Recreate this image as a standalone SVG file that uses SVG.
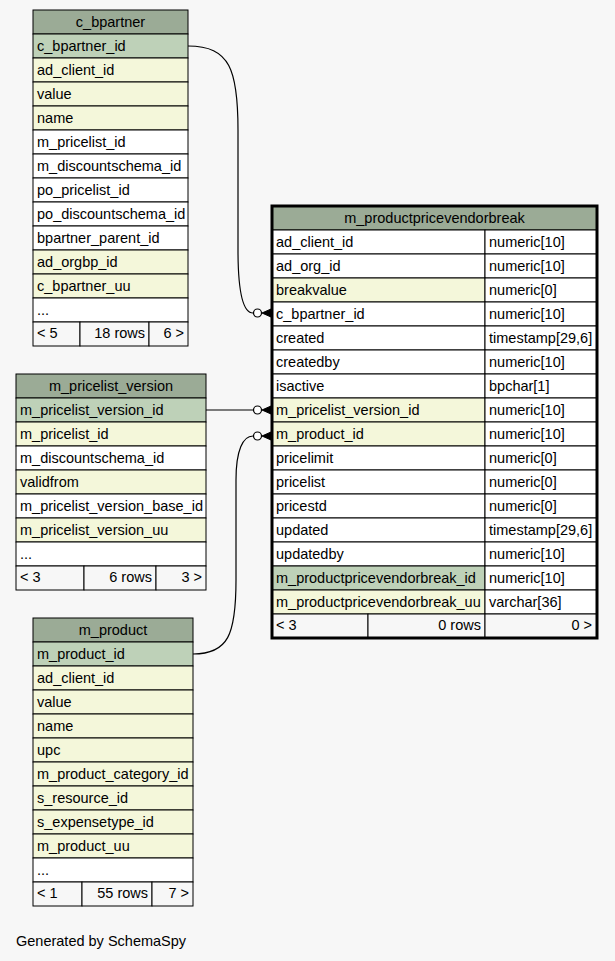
<svg xmlns="http://www.w3.org/2000/svg" width="615" height="961" viewBox="0 0 615 961">
<style>
text{font-family:"Liberation Sans",Arial,sans-serif;font-size:14.5px;fill:#000}
.h{fill:#9bab96;stroke:#000;stroke-width:1}
.pk{fill:#bed1b8;stroke:#000;stroke-width:1}
.ix{fill:#f4f7da;stroke:#000;stroke-width:1}
.w{fill:#ffffff;stroke:#000;stroke-width:1}
.f{fill:#f7f7f7;stroke:#000;stroke-width:1}
.o{fill:none;stroke:#000;stroke-width:1}
.ob{fill:none;stroke:#000;stroke-width:3}
.c{text-anchor:middle}
.r{text-anchor:end}
.e{fill:none;stroke:#000;stroke-width:1.2}
.dot{fill:#fff;stroke:#000;stroke-width:1.2}
.crow{fill:#000;stroke:#000;stroke-width:1}
</style>
<rect width="615" height="961" fill="#f7f7f7"/>

<g id="connectors">
  <path class="e" d="M188,46 C230,46 238,70 238,130 L238,250 C238,295 244,313 253,313"/>
  <circle class="dot" cx="257.5" cy="313" r="4"/>
  <path class="crow" d="M262,313 L271,309 L271,317 Z"/>
  <path class="e" d="M206,410 L253,410"/>
  <circle class="dot" cx="257.5" cy="410" r="4"/>
  <path class="crow" d="M262,410 L271,406 L271,414 Z"/>
  <path class="e" d="M193,654 C228,654 236,635 236,580 L236,480 C236,450 243,436 253,436"/>
  <circle class="dot" cx="257.5" cy="436" r="4"/>
  <path class="crow" d="M262,436 L271,432 L271,440 Z"/>
</g>

<g id="c_bpartner">
  <rect class="h" x="33" y="10" width="155" height="24"/>
  <text class="c" x="110.5" y="27">c_bpartner</text>
  <rect class="pk" x="33" y="34" width="155" height="24"/><text x="37" y="51">c_bpartner_id</text>
  <rect class="ix" x="33" y="58" width="155" height="24"/><text x="37" y="75">ad_client_id</text>
  <rect class="ix" x="33" y="82" width="155" height="24"/><text x="37" y="99">value</text>
  <rect class="ix" x="33" y="106" width="155" height="24"/><text x="37" y="123">name</text>
  <rect class="w" x="33" y="130" width="155" height="24"/><text x="37" y="147">m_pricelist_id</text>
  <rect class="w" x="33" y="154" width="155" height="24"/><text x="37" y="171">m_discountschema_id</text>
  <rect class="w" x="33" y="178" width="155" height="24"/><text x="37" y="195">po_pricelist_id</text>
  <rect class="w" x="33" y="202" width="155" height="24"/><text x="37" y="219">po_discountschema_id</text>
  <rect class="w" x="33" y="226" width="155" height="24"/><text x="37" y="243">bpartner_parent_id</text>
  <rect class="ix" x="33" y="250" width="155" height="24"/><text x="37" y="267">ad_orgbp_id</text>
  <rect class="ix" x="33" y="274" width="155" height="24"/><text x="37" y="291">c_bpartner_uu</text>
  <rect class="w" x="33" y="298" width="155" height="24"/><text x="37" y="315">...</text>
  <rect class="f" x="33" y="322" width="47" height="24"/><text x="37" y="338">&lt; 5</text>
  <rect class="f" x="80" y="322" width="69" height="24"/><text class="r" x="145" y="338">18 rows</text>
  <rect class="f" x="149" y="322" width="39" height="24"/><text class="r" x="184" y="338">6 &gt;</text>
</g>

<g id="m_pricelist_version">
  <rect class="h" x="16" y="374" width="190" height="24"/>
  <text class="c" x="111" y="391">m_pricelist_version</text>
  <rect class="pk" x="16" y="398" width="190" height="24"/><text x="20" y="415">m_pricelist_version_id</text>
  <rect class="ix" x="16" y="422" width="190" height="24"/><text x="20" y="439">m_pricelist_id</text>
  <rect class="w" x="16" y="446" width="190" height="24"/><text x="20" y="463">m_discountschema_id</text>
  <rect class="ix" x="16" y="470" width="190" height="24"/><text x="20" y="487">validfrom</text>
  <rect class="w" x="16" y="494" width="190" height="24"/><text x="20" y="511">m_pricelist_version_base_id</text>
  <rect class="ix" x="16" y="518" width="190" height="24"/><text x="20" y="535">m_pricelist_version_uu</text>
  <rect class="w" x="16" y="542" width="190" height="24"/><text x="20" y="559">...</text>
  <rect class="f" x="16" y="566" width="68" height="24"/><text x="20" y="582">&lt; 3</text>
  <rect class="f" x="84" y="566" width="72" height="24"/><text class="r" x="152" y="582">6 rows</text>
  <rect class="f" x="156" y="566" width="50" height="24"/><text class="r" x="202" y="582">3 &gt;</text>
</g>

<g id="m_product">
  <rect class="h" x="33" y="618" width="160" height="24"/>
  <text class="c" x="113" y="635">m_product</text>
  <rect class="pk" x="33" y="642" width="160" height="24"/><text x="37" y="659">m_product_id</text>
  <rect class="ix" x="33" y="666" width="160" height="24"/><text x="37" y="683">ad_client_id</text>
  <rect class="ix" x="33" y="690" width="160" height="24"/><text x="37" y="707">value</text>
  <rect class="ix" x="33" y="714" width="160" height="24"/><text x="37" y="731">name</text>
  <rect class="ix" x="33" y="738" width="160" height="24"/><text x="37" y="755">upc</text>
  <rect class="ix" x="33" y="762" width="160" height="24"/><text x="37" y="779">m_product_category_id</text>
  <rect class="ix" x="33" y="786" width="160" height="24"/><text x="37" y="803">s_resource_id</text>
  <rect class="ix" x="33" y="810" width="160" height="24"/><text x="37" y="827">s_expensetype_id</text>
  <rect class="ix" x="33" y="834" width="160" height="24"/><text x="37" y="851">m_product_uu</text>
  <rect class="w" x="33" y="858" width="160" height="24"/><text x="37" y="875">...</text>
  <rect class="f" x="33" y="882" width="49" height="24"/><text x="37" y="898">&lt; 1</text>
  <rect class="f" x="82" y="882" width="70" height="24"/><text class="r" x="148" y="898">55 rows</text>
  <rect class="f" x="152" y="882" width="41" height="24"/><text class="r" x="189" y="898">7 &gt;</text>
</g>

<g id="m_productpricevendorbreak">
  <rect class="h" x="272" y="206" width="325" height="24"/>
  <text class="c" x="434.5" y="223">m_productpricevendorbreak</text>
  <rect class="w" x="272" y="230" width="213" height="24"/><text x="276" y="247">ad_client_id</text>
  <rect class="w" x="485" y="230" width="112" height="24"/><text x="489" y="247">numeric[10]</text>
  <rect class="w" x="272" y="254" width="213" height="24"/><text x="276" y="271">ad_org_id</text>
  <rect class="w" x="485" y="254" width="112" height="24"/><text x="489" y="271">numeric[10]</text>
  <rect class="ix" x="272" y="278" width="213" height="24"/><text x="276" y="295">breakvalue</text>
  <rect class="w" x="485" y="278" width="112" height="24"/><text x="489" y="295">numeric[0]</text>
  <rect class="w" x="272" y="302" width="213" height="24"/><text x="276" y="319">c_bpartner_id</text>
  <rect class="w" x="485" y="302" width="112" height="24"/><text x="489" y="319">numeric[10]</text>
  <rect class="w" x="272" y="326" width="213" height="24"/><text x="276" y="343">created</text>
  <rect class="w" x="485" y="326" width="112" height="24"/><text x="489" y="343">timestamp[29,6]</text>
  <rect class="w" x="272" y="350" width="213" height="24"/><text x="276" y="367">createdby</text>
  <rect class="w" x="485" y="350" width="112" height="24"/><text x="489" y="367">numeric[10]</text>
  <rect class="w" x="272" y="374" width="213" height="24"/><text x="276" y="391">isactive</text>
  <rect class="w" x="485" y="374" width="112" height="24"/><text x="489" y="391">bpchar[1]</text>
  <rect class="ix" x="272" y="398" width="213" height="24"/><text x="276" y="415">m_pricelist_version_id</text>
  <rect class="w" x="485" y="398" width="112" height="24"/><text x="489" y="415">numeric[10]</text>
  <rect class="ix" x="272" y="422" width="213" height="24"/><text x="276" y="439">m_product_id</text>
  <rect class="w" x="485" y="422" width="112" height="24"/><text x="489" y="439">numeric[10]</text>
  <rect class="w" x="272" y="446" width="213" height="24"/><text x="276" y="463">pricelimit</text>
  <rect class="w" x="485" y="446" width="112" height="24"/><text x="489" y="463">numeric[0]</text>
  <rect class="w" x="272" y="470" width="213" height="24"/><text x="276" y="487">pricelist</text>
  <rect class="w" x="485" y="470" width="112" height="24"/><text x="489" y="487">numeric[0]</text>
  <rect class="w" x="272" y="494" width="213" height="24"/><text x="276" y="511">pricestd</text>
  <rect class="w" x="485" y="494" width="112" height="24"/><text x="489" y="511">numeric[0]</text>
  <rect class="w" x="272" y="518" width="213" height="24"/><text x="276" y="535">updated</text>
  <rect class="w" x="485" y="518" width="112" height="24"/><text x="489" y="535">timestamp[29,6]</text>
  <rect class="w" x="272" y="542" width="213" height="24"/><text x="276" y="559">updatedby</text>
  <rect class="w" x="485" y="542" width="112" height="24"/><text x="489" y="559">numeric[10]</text>
  <rect class="pk" x="272" y="566" width="213" height="24"/><text x="276" y="583">m_productpricevendorbreak_id</text>
  <rect class="w" x="485" y="566" width="112" height="24"/><text x="489" y="583">numeric[10]</text>
  <rect class="ix" x="272" y="590" width="213" height="24"/><text x="276" y="607">m_productpricevendorbreak_uu</text>
  <rect class="w" x="485" y="590" width="112" height="24"/><text x="489" y="607">varchar[36]</text>
  <rect class="f" x="272" y="614" width="96" height="24"/><text x="276" y="630">&lt; 3</text>
  <rect class="f" x="368" y="614" width="117" height="24"/><text class="r" x="481" y="630">0 rows</text>
  <rect class="f" x="485" y="614" width="112" height="24"/><text class="r" x="592" y="630">0 &gt;</text>
  <rect class="ob" x="272" y="206" width="325" height="432"/>
</g>

<text x="16" y="946">Generated by SchemaSpy</text>
</svg>
